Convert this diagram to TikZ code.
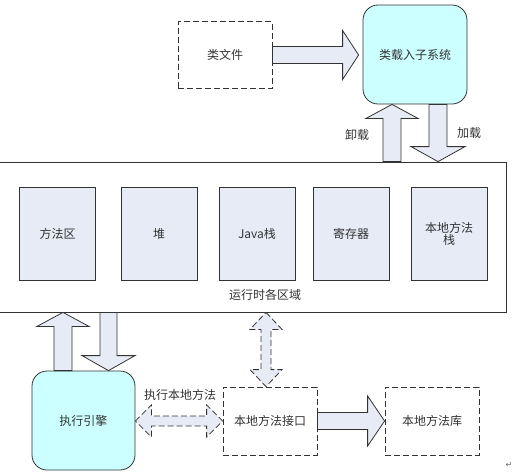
\documentclass[tikz,border=0pt]{standalone}
\usepackage{fontspec}
\setmainfont{Noto Sans CJK SC}
\newfontfamily\symfont{DejaVu Sans}
\usetikzlibrary{calc}

\definecolor{areafill}{HTML}{E6EBF5}
\definecolor{enginefill}{HTML}{CCFFFF}

% fat block arrow: [style]{from}{to}{shaft half width}{head half width}{head length}
\newcommand{\fatarrow}[6][]{%
  \coordinate (fa-s) at (#2);
  \coordinate (fa-e) at (#3);
  \coordinate (fa-h) at ($(fa-e)!#6!(fa-s)$);
  \draw[fatline,#1] ($(fa-s)!#4!90:(fa-e)$) -- ($(fa-h)!#4!90:(fa-e)$)
    -- ($(fa-h)!#5!90:(fa-e)$) -- (fa-e) -- ($(fa-h)!#5!-90:(fa-e)$)
    -- ($(fa-h)!#4!-90:(fa-e)$) -- ($(fa-s)!#4!-90:(fa-e)$) -- cycle;
}
% fat arrow with a head at both ends
\newcommand{\fatdarrow}[6][]{%
  \coordinate (fa-s) at (#2);
  \coordinate (fa-e) at (#3);
  \coordinate (fa-h) at ($(fa-e)!#6!(fa-s)$);
  \coordinate (fa-g) at ($(fa-s)!#6!(fa-e)$);
  \draw[fatline,#1] (fa-s) -- ($(fa-g)!#5!90:(fa-e)$) -- ($(fa-g)!#4!90:(fa-e)$)
    -- ($(fa-h)!#4!90:(fa-e)$) -- ($(fa-h)!#5!90:(fa-e)$) -- (fa-e)
    -- ($(fa-h)!#5!-90:(fa-e)$) -- ($(fa-h)!#4!-90:(fa-e)$)
    -- ($(fa-g)!#4!-90:(fa-e)$) -- ($(fa-g)!#5!-90:(fa-e)$) -- cycle;
}

\begin{document}
\begin{tikzpicture}[x=1pt, y=-1pt,
    font=\fontsize{12}{14}\selectfont,
    every node/.style={inner sep=0pt, text=black!80},
    fatline/.style={draw=black!80, line width=0.8pt, fill=areafill, line join=miter},
    dashline/.style={dash pattern=on 6pt off 3pt},
    dashbox/.style={draw=black!80, line width=0.8pt, dashline,
        minimum width=94pt, minimum height=68pt},
    areabox/.style={draw=black!80, line width=0.8pt, fill=areafill,
        minimum width=76pt, minimum height=93pt, align=center},
    enginebox/.style={draw=black!80, line width=0.8pt, fill=enginefill,
        rounded corners=15pt, minimum width=104pt, minimum height=99pt}]
    \useasboundingbox (0,0) rectangle (515,475);

    % class loading
    \node[dashbox, minimum height=67pt] (classfile) at (225,55) {类文件};
    \node[enginebox] (loader) at (415,54.5) {类载入子系统};

    % runtime data areas
    \node[draw=black!80, line width=0.8pt, minimum width=508pt, minimum height=150pt] (runtime) at (252,237) {};
    \node[areabox] (methodarea) at (57.5,233.5) {方法区};
    \node[areabox] (heap) at (159,233.5) {堆};
    \node[areabox] (javastack) at (257,233.5) {Java栈};
    \node[areabox] (registers) at (351,233.5) {寄存器};
    \node[areabox] (nativestack) at (449,233.5) {本地方法\\[-2pt]栈};
    \node (runtimelabel) at (265,295) {运行时各区域};

    % execution
    \node[enginebox, minimum width=103pt] (engine) at (83.5,420.5) {执行引擎};
    \node[dashbox] (nativeif) at (270,421) {本地方法接口};
    \node[dashbox] (nativelib) at (432,421) {本地方法库};

    % arrows
    \coordinate (loadtip) at ($(loader.west|-classfile.east)+(-4,0)$);
    \fatarrow{classfile.east}{loadtip}{8.5pt}{24.5pt}{16pt}
    \coordinate (unloadtop) at ($(loader.south)+(-23,0)$);
    \coordinate (loadtop) at ($(loader.south)+(23,0)$);
    \fatarrow{runtime.north-|unloadtop}{unloadtop}{9pt}{26pt}{14pt}
    \fatarrow{loadtop}{runtime.north-|loadtop}{9pt}{27pt}{15pt}
    \node (unloadlabel) at (357,135) {卸载};
    \node (loadlabel) at (469,133) {加载};

    \coordinate (engineup) at ($(engine.north)+(-20.5,0)$);
    \coordinate (enginedown) at ($(engine.north)+(25,0)$);
    \fatarrow{engineup}{runtime.south-|engineup}{9pt}{26pt}{14pt}
    \fatarrow{runtime.south-|enginedown}{enginedown}{8.5pt}{26.5pt}{15pt}

    \coordinate (ifup) at ($(nativeif.north)+(-4,0)$);
    \fatdarrow[dashline]{runtime.south-|ifup}{ifup}{5pt}{16pt}{17pt}
    \fatdarrow[dashline]{engine.east|-nativeif.west}{nativeif.west}{5pt}{16pt}{16pt}
    \node (calllabel) at (180,395) {执行本地方法};
    \fatarrow{nativeif.east}{nativelib.west}{8.5pt}{25pt}{17pt}

    \node[font=\symfont\fontsize{8}{8}\selectfont, text=black!60] (parmark) at (509,465) {↵};
\end{tikzpicture}
\end{document}
